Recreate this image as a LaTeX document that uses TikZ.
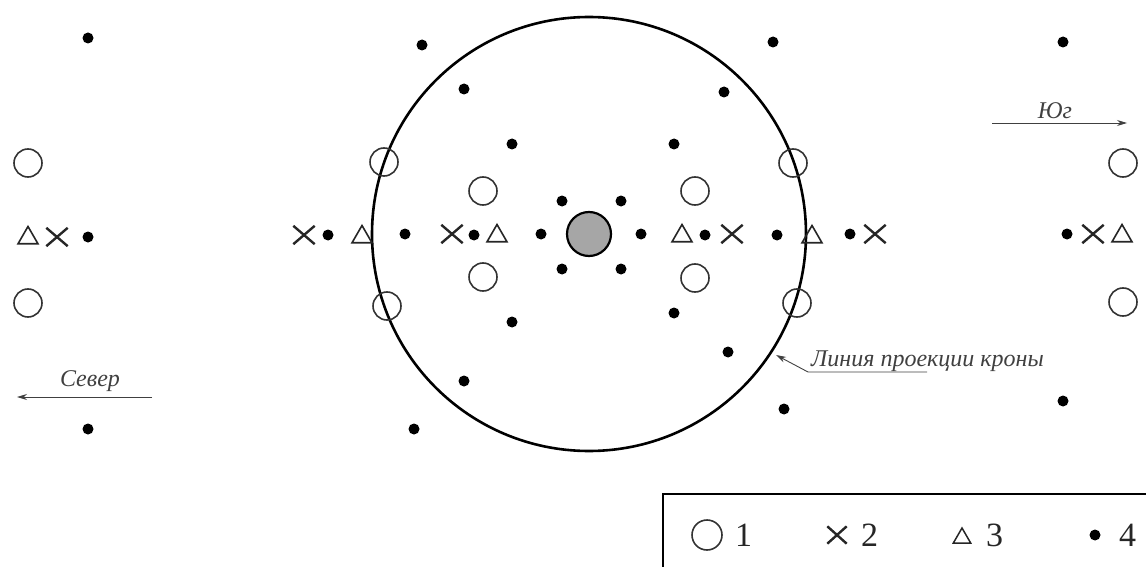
\documentclass[tikz,border=0pt]{standalone}
\usepackage{fontspec}
\setmainfont{Liberation Serif}
\usetikzlibrary{shapes.geometric,shapes.misc,arrows.meta}
\tikzset{
  m1/.style={circle,draw=black!80,line width=1.6pt,minimum size=28pt,inner sep=0pt},
  m2/.style={cross out,draw=black!85,line width=2.4pt,minimum width=19pt,minimum height=16pt,inner sep=0pt},
  m3/.style={regular polygon,regular polygon sides=3,draw=black!85,line width=1.6pt,minimum size=23pt,inner sep=0pt,yshift=-2pt},
  m4/.style={circle,fill=black,minimum size=11pt,inner sep=0pt},
  lab/.style={font=\fontsize{24}{28}\selectfont\itshape,text=black!75,inner sep=0pt},
  legnum/.style={font=\fontsize{34}{38}\selectfont,text=black!85,anchor=base west,inner sep=0pt},
  thinarrow/.style={line width=0.9pt,draw=black!75,-{Stealth[length=10pt,width=6pt]}}
}
\begin{document}
\begin{tikzpicture}[x=1pt,y=-1pt]
\useasboundingbox (0,0) rectangle (1146,567);
% crown projection and trunk
\node[circle,draw,line width=2.6pt,minimum size=434pt,inner sep=0pt] (crown) at (589,234) {};
\node[circle,draw,line width=2.2pt,fill=black!35,minimum size=44pt,inner sep=0pt] (trunk) at (589,234) {};
% type 1 circles
\foreach \n/\x/\y in {a/28/163,b/28/303,c/384/162,d/387/306,e/483/191,f/483/277,g/695/191,h/695/278,i/793/163,j/797/303,k/1123/163,l/1123/302}
  \node[m1] (c\n) at (\x,\y) {};
% type 2 crosses
\foreach \n/\x/\y in {a/57/237,b/304/235,c/452/234,d/732/234,e/875/234,f/1093/234}
  \node[m2] (x\n) at (\x,\y) {};
% type 3 triangles
\foreach \n/\x/\y in {a/28/236,b/362/235,c/497/234,d/682/234,e/812/235,f/1122/234}
  \node[m3] (t\n) at (\x,\y) {};
% type 4 dots
\foreach \n/\x/\y in {a/88/38,b/88/237,c/88/429,d/328/235,e/422/45,f/464/89,g/512/144,h/674/144,i/773/42,j/724/92,k/562/201,l/621/201,m/562/269,n/621/269,o/405/234,p/474/235,q/541/234,r/641/234,s/705/235,t/777/235,u/850/234,v/512/322,w/674/313,x/728/352,y/464/381,z/784/409,A/414/429,B/1063/42,C/1067/234,D/1063/401}
  \node[m4] (d\n) at (\x,\y) {};
% direction arrows
\coordinate (sN1) at (152,397);
\coordinate (sN2) at (17,397);
\draw[thinarrow] (sN1) -- (sN2);
\node[lab] (north) at (90,381) {Север};
\coordinate (sS1) at (992,123);
\coordinate (sS2) at (1127,123);
\draw[thinarrow] (sS1) -- (sS2);
\node[lab] (south) at (1055,111) {Юг};
% crown label with leader
\node[lab,anchor=base west] (crownlab) at (811,366) {Линия проекции кроны};
\coordinate (ld1) at (927,372);
\coordinate (ld2) at (808,372);
\coordinate (ld3) at (776,355);
\draw[thinarrow] (ld1) -- (ld2) -- (ld3);
% legend
\draw[line width=2.4pt] (1150,494) -- (663,494) -- (663,571);
\node[circle,draw=black!80,line width=1.6pt,minimum size=30pt,inner sep=0pt] (L1) at (707,535) {};
\node[legnum] (L1t) at (735,546) {1};
\node[cross out,draw=black!85,line width=2.4pt,minimum width=17pt,minimum height=15pt,inner sep=0pt] (L2) at (837,535) {};
\node[legnum] (L2t) at (861,546) {2};
\node[regular polygon,regular polygon sides=3,draw=black!85,line width=1.5pt,minimum size=20pt,inner sep=0pt,yshift=-3pt] (L3) at (962,535) {};
\node[legnum] (L3t) at (986,546) {3};
\node[m4] (L4) at (1095,535) {};
\node[legnum] (L4t) at (1119,546) {4};
\end{tikzpicture}
\end{document}
